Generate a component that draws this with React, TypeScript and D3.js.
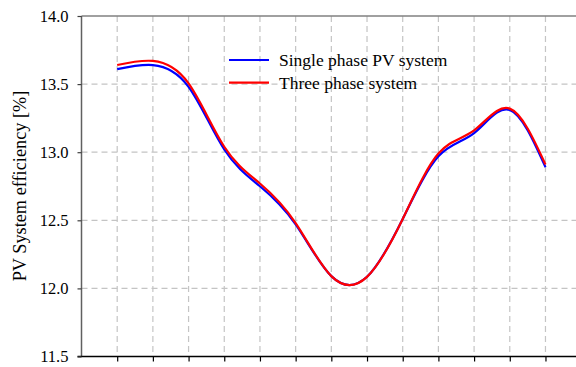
import { useEffect, useRef } from 'react'
import * as d3 from 'd3'

const POINTS = [1, 2, 3, 4, 5, 6, 7, 8, 9, 10, 11, 12, 13]
const SINGLE = [13.61, 13.64, 13.48, 13.02, 12.75, 12.47, 12.09, 12.085, 12.51, 12.97, 13.14, 13.31, 12.89]
const THREE  = [13.64, 13.67, 13.505, 13.04, 12.77, 12.48, 12.09, 12.085, 12.51, 12.99, 13.16, 13.32, 12.91]
const Y_TICKS = [11.5, 12.0, 12.5, 13.0, 13.5, 14.0]
const SERIES = [
  { name: 'Single phase PV system', values: SINGLE, color: '#0000FF' },
  { name: 'Three phase system', values: THREE, color: '#FF0000' },
]

const FONT = '"Liberation Serif", "Times New Roman", serif'

export default function App() {
  const svgRef = useRef<SVGSVGElement>(null)

  useEffect(() => {
    if (!svgRef.current) return
    const W = 576
    const H = 367
    const left = 81.5, top = 16, bottom = 356.5

    const svg = d3.select(svgRef.current)
    svg.selectAll('*').remove()
    svg.attr('width', W).attr('height', H)

    const x = d3.scaleLinear().domain([0, 14]).range([left, left + 35.69 * 14])
    const y = d3.scaleLinear().domain([11.5, 14]).range([bottom, top])

    // grid
    const grid = svg.append('g')
    grid.selectAll('.vg')
      .data(POINTS)
      .enter().append('line')
      .attr('x1', d => x(d)).attr('x2', d => x(d))
      .attr('y1', top).attr('y2', bottom)
      .attr('stroke', '#c4c4c4').attr('stroke-width', 1.2)
      .attr('stroke-dasharray', '6,4')
    grid.selectAll('.hg')
      .data(Y_TICKS.slice(1, -1))
      .enter().append('line')
      .attr('x1', left).attr('x2', W)
      .attr('y1', d => y(d)).attr('y2', d => y(d))
      .attr('stroke', '#c4c4c4').attr('stroke-width', 1.2)
      .attr('stroke-dasharray', '6,4')

    // frame
    svg.append('line')
      .attr('x1', left).attr('x2', W).attr('y1', top).attr('y2', top)
      .attr('stroke', '#808080').attr('stroke-width', 1.5)
    svg.append('line')
      .attr('x1', left).attr('x2', left).attr('y1', top).attr('y2', bottom)
      .attr('stroke', '#606060').attr('stroke-width', 1.5)

    // x axis
    svg.append('g')
      .attr('transform', `translate(0,${bottom})`)
      .call(d3.axisBottom(x).tickValues(POINTS).tickFormat(() => '').tickSize(5).tickSizeOuter(0))
      .call(ax => ax.select('.domain').attr('stroke', '#000').attr('stroke-width', 1.5)
        .attr('d', `M${left - 4},0H${W}`))
      .call(ax => ax.selectAll('.tick line').attr('stroke', '#000').attr('stroke-width', 1.2))

    // y axis
    svg.append('g')
      .attr('transform', `translate(${left},0)`)
      .call(d3.axisLeft(y).tickValues(Y_TICKS).tickFormat(d3.format('.1f')).tickSize(4).tickPadding(9))
      .attr('font-family', FONT).attr('font-size', 16.5)
      .call(ax => ax.select('.domain').remove())
      .call(ax => ax.selectAll('.tick line').attr('stroke', '#404040').attr('stroke-width', 1.2))
      .call(ax => ax.selectAll('text').attr('fill', '#000')
        .style('font-family', FONT).style('font-size', '16.5px'))

    svg.append('text')
      .attr('transform', `translate(26,186) rotate(-90)`)
      .attr('text-anchor', 'middle')
      .style('font-family', FONT).style('font-size', '18.3px')
      .text('PV System efficiency [%]')

    // lines
    const line = d3.line<number>()
      .x((_, i) => x(POINTS[i]))
      .y(d => y(d))
      .curve(d3.curveNatural)

    SERIES.forEach(s => {
      svg.append('path')
        .attr('d', line(s.values))
        .attr('fill', 'none')
        .attr('stroke', s.color)
        .attr('stroke-width', 2.2)
    })

    // legend
    const lg = svg.append('g').attr('transform', 'translate(229,60)')
    SERIES.forEach((s, i) => {
      const row = lg.append('g').attr('transform', `translate(0,${i * 22.7})`)
      row.append('line')
        .attr('x1', 0).attr('x2', 40).attr('y1', 0).attr('y2', 0)
        .attr('stroke', s.color).attr('stroke-width', 2.2)
      row.append('text')
        .attr('x', 50).attr('y', 6)
        .style('font-family', FONT).style('font-size', '17.5px')
        .text(s.name)
    })
  }, [])

  return <svg ref={svgRef} style={{ position: 'absolute', left: 0, top: 0, background: '#fff' }} />
}
